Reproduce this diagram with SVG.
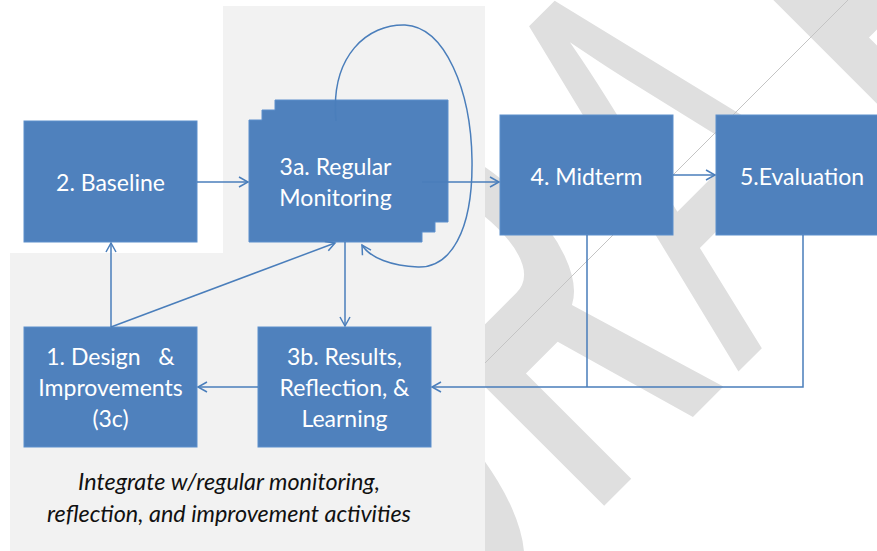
<svg xmlns="http://www.w3.org/2000/svg" width="877" height="551" viewBox="0 0 877 551">
<defs>
<style>
.box{fill:#4f81bd;stroke:#5d8fcc;stroke-width:1}
.lbl{font-family:Lato,"Open Sans","Liberation Sans",sans-serif;font-size:23px;fill:#ffffff;text-anchor:middle}
.con{fill:none;stroke:#4a7ebb;stroke-width:1.5}
.cap{font-family:Lato,"Open Sans","Liberation Sans",sans-serif;font-style:italic;font-size:23.4px;fill:#111111;text-anchor:middle}
.wm{fill:#dfdfdf;font-family:"Liberation Sans",Arial,sans-serif;font-size:570px}
</style>
<marker id="arr" markerWidth="12" markerHeight="12" viewBox="0 0 12 12" refX="10" refY="6" orient="auto" markerUnits="userSpaceOnUse">
<path d="M1,1 L10,6 L1,11" fill="none" stroke="#4a7ebb" stroke-width="1.5"/>
</marker>
</defs>
<rect x="0" y="0" width="877" height="551" fill="#ffffff"/>
<g id="watermark">
<g transform="translate(750 360) rotate(-45)">
<text class="wm" font-weight="bold" transform="translate(-435 0) scale(0.47 1)">D</text>
<text class="wm" font-weight="bold" transform="translate(-224 0) scale(0.466 1)">R</text>
<text class="wm" transform="translate(-17 0) scale(0.6 1)">A</text>
<text class="wm" font-weight="bold" transform="translate(252 0) scale(0.5 1)">F</text>
</g>
<line x1="480" y1="368" x2="848" y2="0" stroke="#c4c4c4" stroke-width="1"/>
</g>
<path id="panel" d="M223,6 H485 V551 H10 V253 H223 Z" fill="#f2f2f2"/>
<g id="node-baseline">
<rect class="box" x="24" y="121" width="173" height="121"/>
<text class="lbl" x="110.5" y="191">2. Baseline</text>
</g>
<g id="node-monitoring">
<path class="box" d="M275,100 H448 V222 H435 V232 H422 V242 H249 V120 H262 V110 H275 Z"/>
<text class="lbl" x="335.5" y="175">3a. Regular</text>
<text class="lbl" x="335.5" y="206">Monitoring</text>
</g>
<g id="node-midterm">
<rect class="box" x="500" y="115" width="173" height="120"/>
<text class="lbl" x="586.5" y="185">4. Midterm</text>
</g>
<g id="node-evaluation">
<rect class="box" x="716" y="115" width="173" height="120"/>
<text class="lbl" x="802" y="185">5.Evaluation</text>
</g>
<g id="node-design">
<rect class="box" x="24" y="327" width="173" height="120"/>
<text class="lbl" x="110.5" y="365" style="white-space:pre">1. Design   &amp;</text>
<text class="lbl" x="110.5" y="396">Improvements</text>
<text class="lbl" x="110.5" y="427">(3c)</text>
</g>
<g id="node-results">
<rect class="box" x="258" y="327" width="173" height="120"/>
<text class="lbl" x="344.5" y="365">3b. Results,</text>
<text class="lbl" x="344.5" y="396">Reflection, &amp;</text>
<text class="lbl" x="344.5" y="427">Learning</text>
</g>
<g id="connectors">
<line class="con" x1="197" y1="182" x2="248" y2="182" marker-end="url(#arr)"/>
<line class="con" x1="422" y1="182" x2="499" y2="182" marker-end="url(#arr)"/>
<line class="con" x1="673" y1="175" x2="715" y2="175" marker-end="url(#arr)"/>
<path class="con" d="M336,121 C330,55 368,24 405,25 C445,27 471,90 472,160 C473,232 450,268 418,267 C392,266 370,258 362,245" marker-end="url(#arr)"/>
<line class="con" x1="345" y1="242" x2="345" y2="326" marker-end="url(#arr)"/>
<line class="con" x1="111" y1="327" x2="111" y2="243" marker-end="url(#arr)"/>
<line class="con" x1="111" y1="327" x2="335" y2="243" marker-end="url(#arr)"/>
<line class="con" x1="258" y1="387" x2="198" y2="387" marker-end="url(#arr)"/>
<path class="con" d="M587,235 V387 M803,235 V387 H432" marker-end="url(#arr)"/>
</g>
<g id="caption">
<text class="cap" x="229" y="490">Integrate w/regular monitoring,</text>
<text class="cap" x="229" y="522">reflection, and improvement activities</text>
</g>
</svg>
